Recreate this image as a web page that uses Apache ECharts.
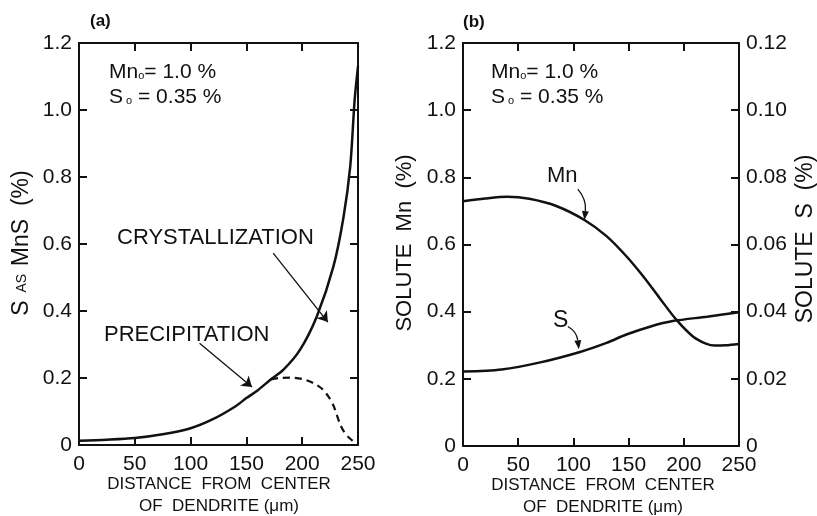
<!DOCTYPE html>
<html>
<head>
<meta charset="utf-8">
<script src="https://cdn.jsdelivr.net/npm/echarts@6/dist/echarts.min.js"></script>
<style>
  html, body { margin: 0; padding: 0; background: #fff; }
  #chart { width: 817px; height: 516px; }
</style>
</head>
<body>
<div id="chart"></div>
<script>
  // (a) S as MnS
  var crystX = [0, 25, 50, 75, 100, 120, 140, 150, 160, 172, 183, 198, 213, 228, 237, 243, 247, 250];
  var crystY = [0.013, 0.016, 0.021, 0.032, 0.05, 0.077, 0.115, 0.14, 0.163, 0.196, 0.224, 0.284, 0.383, 0.533, 0.68, 0.83, 1.03, 1.13];
  var precX = [172, 180, 190, 200, 210, 218, 224, 228, 231, 234, 237, 241, 245, 250];
  var precY = [0.196, 0.2, 0.201, 0.197, 0.185, 0.167, 0.142, 0.118, 0.09, 0.062, 0.042, 0.025, 0.013, 0.0];

  // (b) solute Mn (left axis) and solute S (right axis)
  var mnX = [0, 20, 40, 60, 85, 110, 130, 148, 163, 178, 193, 208, 220, 228, 238, 250];
  var mnY = [0.729, 0.737, 0.742, 0.736, 0.714, 0.673, 0.625, 0.565, 0.506, 0.441, 0.377, 0.327, 0.305, 0.299, 0.3, 0.304];
  var sX = [0, 35, 70, 106, 130, 148, 170, 190, 221, 250];
  var sY = [0.0222, 0.0228, 0.0249, 0.028, 0.0307, 0.0332, 0.0356, 0.0372, 0.0385, 0.0398];

  var xTicks = [0, 50, 100, 150, 200, 250];
  var leftTicks = [0, 0.2, 0.4, 0.6, 0.8, 1.0, 1.2];
  var rightTicks = [0, 0.02, 0.04, 0.06, 0.08, 0.10, 0.12];

  // curved pointer arrows in panel (b): start, bend, tip (left-axis units)
  var mnPointer = [[104, 0.765], [112, 0.734], [110, 0.673]];
  var sPointer = [[95, 0.356], [103, 0.341], [105, 0.288]];

  function pairs(xs, ys) {
    return xs.map(function (x, i) { return [x, ys[i]]; });
  }

  var FONT = 'Liberation Sans';
  var INK = '#111';

  var chart = echarts.init(document.getElementById('chart'));

  function xAxisOf(grid, top) {
    return {
      type: 'value', gridIndex: grid, position: top ? 'top' : 'bottom',
      min: xTicks[0], max: xTicks[xTicks.length - 1], interval: 50,
      axisLine: {show: true, onZero: false, lineStyle: {color: INK, width: 2}},
      axisTick: {show: true, inside: true, length: 8, lineStyle: {color: INK, width: 2}},
      axisLabel: {show: !top, color: INK, fontFamily: FONT, fontSize: 21, margin: 9},
      splitLine: {show: false}
    };
  }

  function yAxisOf(grid, right, labels, ticks, digits) {
    return {
      type: 'value', gridIndex: grid, position: right ? 'right' : 'left',
      min: ticks[0], max: ticks[ticks.length - 1], interval: ticks[1] - ticks[0],
      axisLine: {show: true, onZero: false, lineStyle: {color: INK, width: 2}},
      axisTick: {show: true, inside: true, length: 8, lineStyle: {color: INK, width: 2}},
      axisLabel: {
        show: labels, color: INK, fontFamily: FONT, fontSize: 21, margin: 7,
        formatter: function (v) { return v === 0 ? '0' : v.toFixed(digits); }
      },
      splitLine: {show: false}
    };
  }

  function arrow(xi, yi, from, to) {
    return {
      type: 'line', xAxisIndex: xi, yAxisIndex: yi, data: [], silent: true,
      markLine: {
        silent: true, animation: false,
        symbol: ['none', 'arrow'], symbolSize: 10,
        label: {show: false},
        emphasis: {disabled: true},
        lineStyle: {color: INK, width: 1.3, type: 'solid'},
        data: [[{coord: from}, {coord: to}]]
      }
    };
  }

  function label(x, y, text, size, extra) {
    return {
      type: 'text', left: x, top: y,
      style: Object.assign({text: text, fontSize: size, fontFamily: FONT, fill: INK}, extra || {})
    };
  }

  var conc = '{a|Mn}{s|o}{a|= 1.0 %}\n{a|S}{s| o}{a| = 0.35 %}';
  var concRich = {
    a: {fontSize: 21, fontFamily: FONT, lineHeight: 25, color: INK},
    s: {fontSize: 11, fontFamily: FONT, color: INK, padding: [7, 0, 0, 0]}
  };

  var graphics = [
    label(90, 13, '(a)', 17, {fontWeight: 'bold'}),
    label(463, 14, '(b)', 17, {fontWeight: 'bold'}),
    label(109, 62, conc, 21, {rich: concRich}),
    label(491, 62, conc, 21, {rich: concRich}),
    label(117, 227, 'CRYSTALLIZATION', 22),
    label(104, 324, 'PRECIPITATION', 22),
    label(547, 165, 'Mn', 22),
    label(553, 309, 'S', 23),
    // axis titles
    {type: 'text', x: 22, y: 243, rotation: Math.PI / 2, style: {
      text: '{a|S}{b|  AS  }{a|MnS  (%)}', align: 'center', verticalAlign: 'middle', fill: INK,
      rich: {a: {fontSize: 23, fontFamily: FONT, color: INK}, b: {fontSize: 14, fontFamily: FONT, color: INK}}
    }},
    {type: 'text', x: 405, y: 243, rotation: Math.PI / 2, style: {
      text: 'SOLUTE  Mn  (%)', fontSize: 22, fontFamily: FONT, fill: INK, align: 'center', verticalAlign: 'middle'
    }},
    {type: 'text', x: 806, y: 239, rotation: Math.PI / 2, style: {
      text: 'SOLUTE  S  (%)', fontSize: 23, fontFamily: FONT, fill: INK, align: 'center', verticalAlign: 'middle'
    }},
    {type: 'text', x: 219, y: 495, style: {
      text: 'DISTANCE  FROM  CENTER\nOF  DENDRITE (\u03bcm)', fontSize: 17, fontFamily: FONT, fill: INK,
      align: 'center', verticalAlign: 'middle', lineHeight: 22
    }},
    {type: 'text', x: 603, y: 496, style: {
      text: 'DISTANCE  FROM  CENTER\nOF  DENDRITE (\u03bcm)', fontSize: 17, fontFamily: FONT, fill: INK,
      align: 'center', verticalAlign: 'middle', lineHeight: 22
    }}
  ];

  var option = {
    backgroundColor: '#fff',
    animation: false,
    grid: [
      {left: 79, right: 459, top: 43, bottom: 71},
      {left: 463, right: 78, top: 43, bottom: 70}
    ],
    xAxis: [xAxisOf(0, false), xAxisOf(0, true), xAxisOf(1, false), xAxisOf(1, true)],
    yAxis: [
      yAxisOf(0, false, true, leftTicks, 1),
      yAxisOf(0, true, false, leftTicks, 1),
      yAxisOf(1, false, true, leftTicks, 1),
      yAxisOf(1, true, true, rightTicks, 2)
    ],
    series: [
      {
        name: 'CRYSTALLIZATION', type: 'line', xAxisIndex: 0, yAxisIndex: 0,
        data: pairs(crystX, crystY), smooth: 0.3, showSymbol: false,
        lineStyle: {color: INK, width: 2.5}
      },
      {
        name: 'PRECIPITATION', type: 'line', xAxisIndex: 0, yAxisIndex: 0,
        data: pairs(precX, precY), smooth: 0.3, showSymbol: false,
        lineStyle: {color: INK, width: 2.2, type: [7, 5]}
      },
      {
        name: 'Mn', type: 'line', xAxisIndex: 2, yAxisIndex: 2,
        data: pairs(mnX, mnY), smooth: 0.3, showSymbol: false,
        lineStyle: {color: INK, width: 2.5}
      },
      {
        name: 'S', type: 'line', xAxisIndex: 2, yAxisIndex: 3,
        data: pairs(sX, sY), smooth: 0.3, showSymbol: false,
        lineStyle: {color: INK, width: 2.5}
      },
      arrow(0, 0, [174, 0.573], [223, 0.367]),
      arrow(0, 0, [108, 0.304], [155, 0.173])
    ],
    graphic: graphics
  };

  chart.setOption(option);

  // curved pointers: quadratic curve + filled head, placed via the (b) axes
  function curvedPointer(pts) {
    var p = pts.map(function (d) {
      return chart.convertToPixel({xAxisIndex: 2, yAxisIndex: 2}, d);
    });
    var tip = p[2], dx = tip[0] - p[1][0], dy = tip[1] - p[1][1];
    var len = Math.sqrt(dx * dx + dy * dy);
    dx /= len; dy /= len;
    var hl = 9, hw = 3.5;
    var base = [tip[0] - dx * hl, tip[1] - dy * hl];
    return [
      {type: 'bezierCurve', silent: true, shape: {
        x1: p[0][0], y1: p[0][1], cpx1: p[1][0], cpy1: p[1][1], x2: base[0], y2: base[1]
      }, style: {stroke: INK, lineWidth: 1.3, fill: null}},
      {type: 'polygon', silent: true, shape: {points: [
        tip, [base[0] - dy * hw, base[1] + dx * hw], [base[0] + dy * hw, base[1] - dx * hw]
      ]}, style: {fill: INK}}
    ];
  }

  chart.setOption({graphic: graphics.concat(curvedPointer(mnPointer), curvedPointer(sPointer))});
</script>
</body>
</html>
